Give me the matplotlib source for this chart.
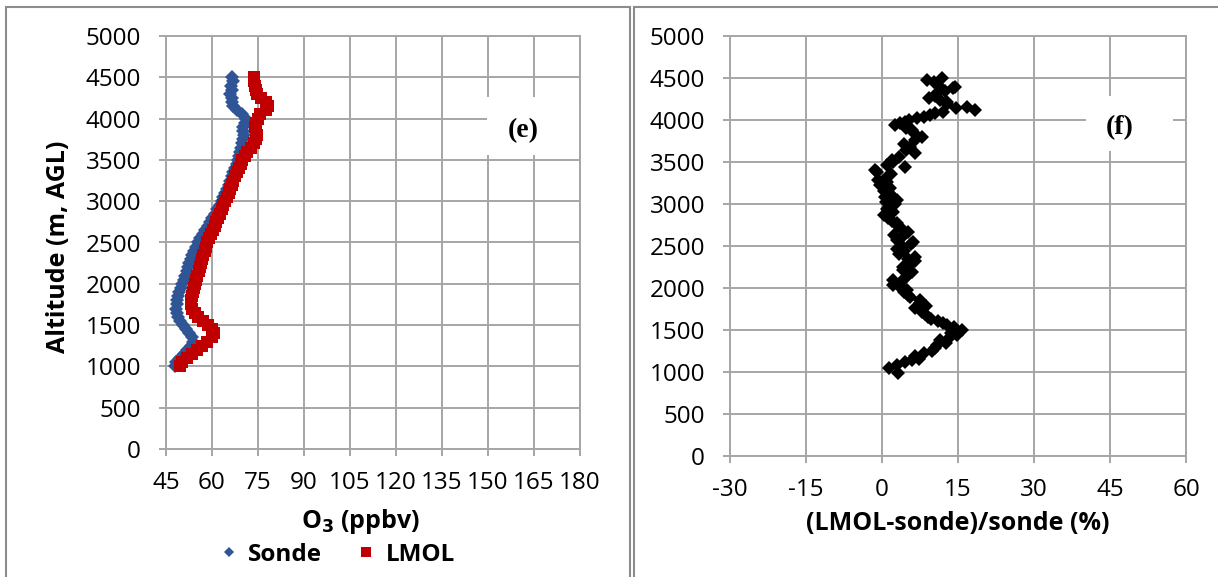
import numpy as np
import matplotlib.pyplot as plt
from matplotlib.patches import Rectangle
from matplotlib.lines import Line2D

plt.rcParams['font.family'] = ['Open Sans', 'DejaVu Sans']
plt.rcParams['axes.unicode_minus'] = False

### data ###
alt = [1000, 1050, 1100, 1150, 1200, 1250, 1300, 1350, 1400, 1450,
       1500, 1550, 1600, 1650, 1700, 1750, 1800, 1850, 1900, 1950,
       2000, 2050, 2100, 2150, 2200, 2250, 2300, 2350, 2400, 2450,
       2500, 2550, 2600, 2650, 2700, 2750, 2800, 2850, 2900, 2950,
       3000, 3050, 3100, 3150, 3200, 3250, 3300, 3350, 3400, 3450,
       3500, 3550, 3600, 3650, 3700, 3750, 3800, 3850, 3900, 3950,
       4000, 4050, 4100, 4150, 4200, 4250, 4300, 4350, 4400, 4450, 4500]

sonde = [47.8, 48.2, 49.5, 51.0, 52.0, 53.0, 53.8, 53.6, 52.6, 51.5,
         50.6, 49.5, 48.8, 48.5, 48.4, 48.6, 48.6, 49.0, 49.3, 49.8,
         50.2, 50.9, 51.3, 51.8, 52.2, 52.5, 53.0, 53.4, 54.1, 54.7,
         55.3, 56.2, 57.0, 57.8, 58.6, 59.2, 60.0, 61.0, 61.7, 62.5,
         63.1, 63.7, 64.3, 65.0, 65.5, 66.0, 66.4, 67.0, 67.6, 68.1,
         68.6, 68.9, 69.2, 69.5, 69.7, 70.0, 70.3, 70.2, 70.2, 70.8,
         71.2, 69.8, 68.2, 67.0, 66.5, 66.6, 66.0, 66.5, 66.3, 66.8, 66.5]

lmol = [49.6, 50.3, 51.7, 53.6, 55.2, 56.8, 58.5, 60.0, 60.5, 60.0,
        58.6, 57.0, 55.4, 54.3, 53.6, 53.2, 53.2, 53.4, 53.8, 54.1,
        54.5, 54.8, 55.2, 55.6, 56.0, 56.4, 56.7, 57.1, 57.6, 58.0,
        58.4, 59.0, 59.6, 60.3, 60.9, 61.4, 62.0, 62.6, 63.2, 63.7,
        64.2, 64.8, 65.4, 66.0, 66.5, 67.0, 67.6, 68.2, 68.8, 69.3,
        69.8, 70.6, 71.5, 72.6, 73.6, 74.5, 74.7, 74.3, 74.0, 74.2,
        75.0, 75.7, 77.5, 78.4, 77.6, 76.0, 74.7, 74.3, 74.0, 73.8, 73.6]

# relative difference profile
diff_alt = [984, 1044, 1085, 1123, 1143, 1160, 1190, 1222, 1250, 1280,
            1321, 1350, 1380, 1420, 1445, 1470, 1500, 1530, 1555, 1579,
            1610, 1635, 1659, 1690, 1720, 1758, 1790, 1820, 1857, 1890,
            1920, 1950, 1976, 2010, 2040, 2070, 2095, 2125, 2155, 2190,
            2220, 2254, 2290, 2320, 2350, 2373, 2410, 2440, 2470, 2492,
            2520, 2545, 2571, 2600, 2630, 2671, 2700, 2735, 2770, 2800,
            2835, 2869, 2900, 2935, 2968, 3000, 3020, 3048, 3080, 3105,
            3127, 3160, 3190, 3226, 3260, 3290, 3325, 3360, 3380, 3405,
            3444, 3470, 3500, 3524, 3560, 3603, 3640, 3682, 3720, 3760,
            3801, 3840, 3881, 3910, 3940, 3960, 3980, 4000, 4020, 4040,
            4060, 4080, 4099, 4119, 4140, 4159, 4190, 4220, 4238, 4258,
            4290, 4317, 4350, 4380, 4396, 4420, 4450, 4476, 4496]

diff = [3.2, 1.3, 3.0, 4.6, 5.9, 7.4, 6.5, 8.2, 9.8, 10.5,
        10.8, 12.6, 11.5, 13.4, 14.8, 13.6, 15.7, 14.2, 12.9, 12.1,
        11.0, 9.6, 9.1, 8.4, 7.8, 6.5, 8.6, 7.5, 7.5, 5.6,
        5.2, 4.3, 4.9, 3.6, 2.2, 3.8, 2.2, 4.6, 5.2, 6.0,
        4.1, 4.2, 5.5, 6.5, 5.2, 6.5, 3.4, 4.4, 3.0, 4.2,
        5.8, 6.2, 2.9, 3.8, 2.3, 5.2, 4.0, 3.1, 2.9, 1.9,
        1.2, 0.3, 2.1, 1.0, 1.3, 2.6, 0.8, 2.9, 0.5, 1.8,
        1.3, 0.4, 1.5, -0.4, 1.0, -0.8, 0.9, 1.8, -1.0, -1.4,
        4.5, 0.9, 2.2, 2.0, 3.3, 6.5, 4.8, 5.5, 4.3, 6.6,
        7.8, 6.4, 5.9, 4.8, 2.6, 3.5, 4.5, 5.4, 7.0, 8.2,
        9.5, 10.5, 12.1, 18.4, 14.7, 16.8, 12.8, 12.8, 11.5, 9.2,
        10.5, 10.8, 12.5, 14.0, 14.4, 11.0, 10.2, 8.8, 11.8]

grid_c = '#a6a6a6'
blue = '#2f5597'
red = '#c00000'


def style_axes(ax):
    ax.grid(True, color=grid_c, lw=1.4, zorder=0)
    ax.set_axisbelow(True)
    for s in ax.spines.values():
        s.set_color(grid_c)
        s.set_linewidth(1.4)
    ax.tick_params(axis='both', colors=grid_c, labelcolor='black',
                   labelsize=17.5, length=5, width=1.4)
    ax.tick_params(axis='y', pad=13)
    ax.tick_params(axis='x', pad=11)
    ax.set_ylim(0, 5000)
    ax.set_yticks(np.arange(0, 5001, 500))


def panel_tag(ax, x0, y0, w, h, tx, ty, tag):
    ax.add_patch(Rectangle((x0, y0), w, h, transform=ax.transAxes,
                           facecolor='white', edgecolor='none', zorder=1))
    ax.text(tx, ty, tag, transform=ax.transAxes, ha='center', va='center',
            fontsize=20, fontweight='bold', family='Liberation Serif', zorder=2)


### main ###
def main():
    fig = plt.figure(figsize=(12.18, 5.77), dpi=100)

    # panel frames
    fig.add_artist(Rectangle((6/1218, -0.05), (630-6)/1218, 1.05 - 7/577,
                             transform=fig.transFigure, fill=False,
                             edgecolor='#8c8c8c', lw=1.5))
    fig.add_artist(Rectangle((634/1218, -0.05), 0.5, 1.05 - 7/577,
                             transform=fig.transFigure, fill=False,
                             edgecolor='#8c8c8c', lw=1.5))

    # (e) ozone profiles
    ax1 = fig.add_axes([166/1218, 128/577, 414/1218, 413/577])
    style_axes(ax1)
    ax1.plot(sonde, alt, 'D', color=blue, ms=7.5, mew=0, zorder=3)
    ax1.plot(lmol, alt, 's', color=red, ms=9, mew=0, zorder=4)
    ax1.set_xlim(45, 180)
    ax1.set_xticks(np.arange(45, 181, 15))
    ax1.set_xlabel('O$_\\mathbf{3}$ (ppbv)', fontsize=18, fontweight='bold')
    ax1.xaxis.set_label_coords(0.47, -0.14)
    ax1.set_ylabel('Altitude (m, AGL)', fontsize=18, fontweight='bold')
    ax1.yaxis.set_label_coords(-0.23, 0.49)
    panel_tag(ax1, 0.775, 0.712, 0.225, 0.14, 0.862, 0.772, '(e)')

    handles = [Line2D([], [], ls='none', marker='D', color=blue, ms=5.5, mew=0),
               Line2D([], [], ls='none', marker='s', color=red, ms=7, mew=0)]
    fig.legend(handles, ['Sonde', 'LMOL'], loc='center', ncol=2,
               bbox_to_anchor=(337/1218, 1 - 555/577), frameon=False,
               prop={'size': 17.5, 'weight': 'bold'}, handlelength=0.8,
               handletextpad=0.4, columnspacing=1.4)

    # (f) relative difference
    ax2 = fig.add_axes([730/1218, 121/577, 456/1218, 420/577])
    style_axes(ax2)
    ax2.plot(diff, diff_alt, 'D', color='black', ms=7, mew=0, zorder=3)
    ax2.set_xlim(-30, 60)
    ax2.set_xticks(np.arange(-30, 61, 15))
    ax2.set_xlabel('(LMOL-sonde)/sonde (%)', fontsize=18, fontweight='bold')
    ax2.xaxis.set_label_coords(0.5, -0.13)
    panel_tag(ax2, 0.781, 0.726, 0.19, 0.131, 0.855, 0.781, '(f)')

    fig.savefig('out.png', dpi=100)


if __name__ == '__main__':
    main()
